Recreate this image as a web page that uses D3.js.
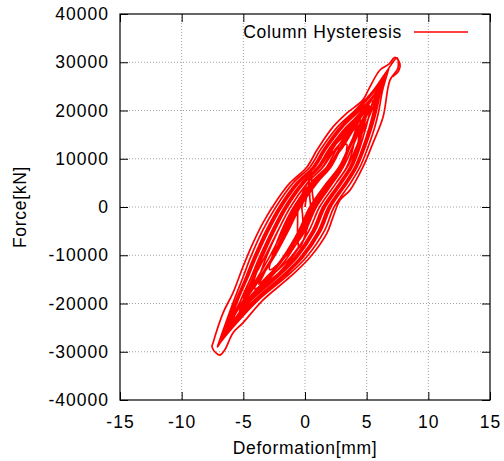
<!DOCTYPE html>
<html>
<head>
<meta charset="utf-8">
<script src="https://cdn.jsdelivr.net/npm/d3@7"></script>
<style>
  body { margin: 0; background: #fff; }
  svg text { font-family: "Liberation Sans", Arial, sans-serif; fill: #000; }
</style>
</head>
<body>
<div id="chart"></div>
<script>
// Tick values
const xTicks = [-15, -10, -5, 0, 5, 10, 15];
const yTicks = [-40000, -30000, -20000, -10000, 0, 10000, 20000, 30000, 40000];

// Hysteresis cycles, [deformation mm, force kN].
// Each cycle: positive peak -> unloading to negative peak -> reloading.
const start = [[0, 0], [0.15, 2500]];
const cycA = [[0.35, 4500], [0.36, 3825], [0.37, 2925], [0.40, 1575], [0.45, 0], [0.27, -1575], [0.08, -2925], [-0.05, -3825], [-0.15, -4500],
  [-0.16, -3825], [-0.17, -2925], [-0.20, -1575], [-0.25, 0], [-0.07, 1575], [0.12, 2925], [0.25, 3825]];
const cycB = [[0.5, 7500], [0.55, 5400], [0.6, 2900], [0.7, 0], [0.33, -3150], [0.0, -5850], [-0.25, -7650], [-0.5, -8500],
  [-0.55, -7650], [-0.6, -5850], [-0.6, -3150], [-0.55, 0], [-0.2, 2905], [0.3, 5395], [0.9, 7800], [1.8, 10500]];
const cycC = [[3.38, 13000], [3.38, 12000], [3.09, 8300], [2.26, 5000], [0.92, 0], [0.01, -5000], [-1.62, -10400], [-2.87, -13000],
  [-2.68, -10400], [-1.91, -5000], [-0.92, 0], [0.48, 5000], [1.77, 8300], [2.96, 12000]];
const cycD = [[4.13, 16500], [3.87, 12000], [3.39, 8300], [2.53, 5000], [1.18, 0], [0.30, -5000], [-1.16, -10400], [-2.84, -14500], [-4.06, -17000],
  [-3.72, -14500], [-3.14, -10400], [-2.20, -5000], [-1.18, 0], [0.21, 5000], [1.47, 8300], [2.47, 12000]];
const cycS = [[4.25, 17000], [4.19, 16600], [3.57, 12000], [2.97, 8300], [2.01, 5000], [0.66, 0], [-0.26, -5000], [-1.63, -10400], [-3.11, -14500], [-3.75, -16000],
  [-3.45, -14500], [-2.67, -10400], [-1.64, -5000], [-0.66, 0], [0.73, 5000], [1.90, 8300], [2.77, 12000], [4.11, 16600]];
const cycQ = [[4.5, 18000], [4.46, 16600], [4.21, 12000], [3.73, 8300], [2.92, 5000], [1.57, 0], [0.72, -5000], [-0.77, -10400], [-2.51, -14500], [-4.52, -18500],
  [-4.05, -14500], [-3.53, -10400], [-2.62, -5000], [-1.57, 0], [-0.18, 5000], [1.13, 8300], [2.14, 12000], [3.84, 16600]];
const cycK = [[5.23, 21000], [5.05, 20000], [4.32, 16600], [3.46, 12000], [2.76, 8300], [1.76, 5000], [0.39, 0], [-0.53, -5000], [-1.79, -10400], [-3.04, -14500], [-4.70, -19300], [-5.33, -21500],
  [-4.84, -19300], [-3.53, -14500], [-2.51, -10400], [-1.37, -5000], [-0.39, 0], [0.98, 5000], [2.10, 8300], [2.88, 12000], [3.98, 16600], [4.97, 20000]];
const cycE = [[4.88, 19500], [4.64, 16600], [4.18, 12000], [3.64, 8300], [2.79, 5000], [1.44, 0], [0.58, -5000], [-0.85, -10400], [-2.46, -14500], [-4.67, -19300], [-4.95, -20000],
  [-4.87, -19300], [-4.10, -14500], [-3.45, -10400], [-2.48, -5000], [-1.44, 0], [-0.05, 5000], [1.22, 8300], [2.16, 12000], [3.66, 16600]];
const cycE2 = [[5.0, 20000], [4.74, 16600], [4.3, 12000], [3.76, 8300], [2.91, 5000], [1.56, 0], [0.7, -5000], [-0.73, -10400], [-2.34, -14500], [-4.55, -19300], [-5.05, -20500],
  [-4.99, -19300], [-4.22, -14500], [-3.57, -10400], [-2.6, -5000], [-1.56, 0], [-0.17, 5000], [1.1, 8300], [2.04, 12000], [3.54, 16600]];
const cycF = [[5.45, 22000], [5.29, 20000], [4.95, 16600], [4.41, 12000], [3.83, 8300], [3.0, 5000], [1.65, 0], [0.80, -5000], [-0.61, -10400], [-2.19, -14500], [-4.34, -19300], [-5.71, -23000],
  [-5.20, -19300], [-4.37, -14500], [-3.69, -10400], [-2.70, -5000], [-1.65, 0], [-0.26, 5000], [1.03, 8300], [1.94, 12000], [3.35, 16600], [4.73, 20000]];
const cycM = [[5.77, 23500], [5.21, 20000], [4.57, 16600], [3.77, 12000], [3.10, 8300], [2.15, 5000], [0.79, 0], [-0.11, -5000], [-1.41, -10400], [-2.74, -14500], [-4.53, -19300], [-5.97, -24000],
  [-5.01, -19300], [-3.82, -14500], [-2.89, -10400], [-1.79, -5000], [-0.79, 0], [0.60, 5000], [1.76, 8300], [2.57, 12000], [3.73, 16600], [4.81, 20000]];
const cycG = [[5.98, 24500], [5.93, 24000], [5.57, 20000], [5.22, 16600], [4.63, 12000], [4.04, 8300], [3.23, 5000], [1.89, 0], [1.06, -5000], [-0.37, -10400], [-1.95, -14500], [-4.11, -19300], [-5.82, -24000], [-6.32, -25500],
  [-6.12, -24000], [-5.43, -19300], [-4.61, -14500], [-3.94, -10400], [-2.96, -5000], [-1.89, 0], [-0.49, 5000], [0.82, 8300], [1.71, 12000], [3.08, 16600], [4.45, 20000], [5.83, 24000]];
const cycN = [[6.17, 25500], [5.96, 24000], [5.41, 20000], [4.84, 16600], [4.09, 12000], [3.44, 8300], [2.54, 5000], [1.18, 0], [0.31, -5000], [-1.03, -10400], [-2.44, -14500], [-4.34, -19300], [-5.85, -24000], [-6.44, -26000],
  [-6.09, -24000], [-5.20, -19300], [-4.12, -14500], [-3.27, -10400], [-2.21, -5000], [-1.18, 0], [0.20, 5000], [1.42, 8300], [2.25, 12000], [3.46, 16600], [4.62, 20000], [5.80, 24000]];
const cycH = [[6.46, 27000], [6.13, 24000], [5.80, 20000], [5.44, 16600], [4.82, 12000], [4.23, 8300], [3.44, 5000], [2.10, 0], [1.28, -5000], [-0.15, -10400], [-1.76, -14500], [-3.95, -19300], [-5.65, -24000], [-6.78, -27500],
  [-6.29, -24000], [-5.59, -19300], [-4.80, -14500], [-4.15, -10400], [-3.18, -5000], [-2.10, 0], [-0.70, 5000], [0.63, 8300], [1.52, 12000], [2.86, 16600], [4.22, 20000], [5.63, 24000]];
const cycH2 = [[6.3, 26500], [6.0, 24000], [5.7, 20000], [5.34, 16600], [4.72, 12000], [4.13, 8300], [3.34, 5000], [2.0, 0], [1.18, -5000], [-0.25, -10400], [-1.86, -14500], [-4.05, -19300], [-5.75, -24000], [-6.6, -27000],
  [-6.19, -24000], [-5.49, -19300], [-4.7, -14500], [-4.05, -10400], [-3.08, -5000], [-2.0, 0], [-0.6, 5000], [0.73, 8300], [1.62, 12000], [2.96, 16600], [4.32, 20000], [5.53, 24000]];
const cycR = [[6.36, 26500], [5.93, 24000], [5.20, 20000], [4.47, 16600], [3.58, 12000], [2.88, 8300], [1.89, 5000], [0.52, 0], [-0.39, -5000], [-1.65, -10400], [-2.90, -14500], [-4.57, -19300], [-5.90, -24000], [-6.67, -27000],
  [-6.04, -24000], [-4.97, -19300], [-3.66, -14500], [-2.65, -10400], [-1.51, -5000], [-0.52, 0], [0.85, 5000], [1.98, 8300], [2.76, 12000], [3.83, 16600], [4.82, 20000], [5.83, 24000]];
const cycI = [[6.8, 28800], [6.71, 28000], [6.27, 24000], [5.99, 20000], [5.66, 16600], [5.05, 12000], [4.46, 8300], [3.70, 5000], [2.36, 0], [1.56, -5000], [0.11, -10400], [-1.54, -14500], [-3.79, -19300], [-5.52, -24000], [-6.83, -28000], [-7.1, -29000],
  [-6.97, -28000], [-6.42, -24000], [-5.75, -19300], [-5.02, -14500], [-4.41, -10400], [-3.46, -5000], [-2.36, 0], [-0.96, 5000], [0.40, 8300], [1.29, 12000], [2.64, 16600], [4.04, 20000], [5.49, 24000], [6.59, 28000]];
const cycJ = [[7.46, 30900], [7.54, 28800], [6.89, 26300], [6.33, 18650], [5.52, 13300], [4.7, 8300], [3.65, 3500], [2.84, 1450], [2.27, -2100],
  [1.78, -5400], [0.41, -10400], [-1.22, -14500], [-3.41, -19300], [-5.03, -24000], [-5.84, -26100], [-6.5, -29600], [-6.89, -30700],
  [-7.2, -30300], [-7.54, -29000], [-7.46, -28200], [-6.65, -22000], [-5.84, -17800], [-5.03, -12400], [-4.22, -7500], [-3.41, -3300],
  [-2.27, 1450], [-1.22, 5000], [0.16, 8300], [0.97, 11800], [2.27, 16600], [3.41, 19500], [4.7, 22200], [5.2, 24600], [6.08, 28400],
  [6.8, 29600], [7.3, 31000], [7.7, 29700], [7.6, 28200], [7.1, 27000]];

const cycles = [start, cycA, cycB, cycC, cycD, cycS, cycQ, cycK, cycE, cycE2, cycF, cycM, cycG, cycN, cycH, cycH2, cycR, cycI, cycJ];

// Layout
const W = 504, H = 461;
const margin = { top: 14, right: 14, bottom: 61, left: 120 };
const width = W - margin.left - margin.right;
const height = H - margin.top - margin.bottom;
const fontSize = "17.5px";

const svg = d3.select("#chart")
  .append("svg")
  .attr("width", W)
  .attr("height", H);

const g = svg.append("g")
  .attr("transform", `translate(${margin.left},${margin.top})`);

// Scales
const x = d3.scaleLinear().domain([-15, 15]).range([0, width]);
const y = d3.scaleLinear().domain([-40000, 40000]).range([height, 0]);

// Grid (dotted)
g.append("g").selectAll("line")
  .data(xTicks.slice(1, -1))
  .enter().append("line")
  .attr("x1", d => x(d)).attr("x2", d => x(d))
  .attr("y1", 0).attr("y2", height)
  .attr("stroke", "#a0a0a0")
  .attr("stroke-width", 1)
  .attr("stroke-dasharray", "1,2");

g.append("g").selectAll("line")
  .data(yTicks.slice(1, -1))
  .enter().append("line")
  .attr("x1", 0).attr("x2", width)
  .attr("y1", d => y(d)).attr("y2", d => y(d))
  .attr("stroke", "#a0a0a0")
  .attr("stroke-width", 1)
  .attr("stroke-dasharray", "1,2");

// Axes: inward ticks on all four sides
const tickLen = 8;
const bottomAxis = g.append("g")
  .attr("transform", `translate(0,${height})`)
  .call(d3.axisBottom(x).tickValues(xTicks).tickSize(-tickLen).tickPadding(16));
const topAxis = g.append("g")
  .call(d3.axisTop(x).tickValues(xTicks).tickSize(-tickLen).tickFormat(""));
const leftAxis = g.append("g")
  .call(d3.axisLeft(y).tickValues(yTicks).tickSize(-tickLen).tickPadding(11));
const rightAxis = g.append("g")
  .attr("transform", `translate(${width},0)`)
  .call(d3.axisRight(y).tickValues(yTicks).tickSize(-tickLen).tickFormat(""));

[bottomAxis, topAxis, leftAxis, rightAxis].forEach(a => {
  a.select(".domain").remove();
  a.selectAll(".tick line").attr("stroke", "#000").attr("stroke-width", 1);
  a.selectAll("text").style("font-size", fontSize).attr("fill", "#000")
    .style("letter-spacing", "1px")
    .style("font-family", '"Liberation Sans", Arial, sans-serif');
});
leftAxis.selectAll("text").text(d => String(d));
bottomAxis.selectAll("text").text(d => String(d));

// Border
g.append("rect")
  .attr("x", 0).attr("y", 0)
  .attr("width", width).attr("height", height)
  .attr("fill", "none")
  .attr("stroke", "#000")
  .attr("stroke-width", 1.2);

// Hysteresis curve
const line = d3.line()
  .x(d => x(d[0]))
  .y(d => y(d[1]))
  .curve(d3.curveCatmullRom.alpha(0.5));

g.append("path")
  .datum(cycles.flat())
  .attr("d", line)
  .attr("fill", "none")
  .attr("stroke", "#ff0000")
  .attr("stroke-width", 1.7)
  .attr("stroke-linejoin", "round");

// Legend
g.append("text")
  .attr("x", 282)
  .attr("y", 18)
  .attr("dy", "0.35em")
  .attr("text-anchor", "end")
  .style("font-size", fontSize)
  .style("letter-spacing", "0.7px")
  .text("Column Hysteresis");

g.append("line")
  .attr("x1", 294).attr("x2", 348)
  .attr("y1", 18).attr("y2", 18)
  .attr("stroke", "#ff0000")
  .attr("stroke-width", 1.5);

// Axis labels
svg.append("text")
  .attr("x", margin.left + width / 2)
  .attr("y", 454)
  .attr("text-anchor", "middle")
  .style("font-size", fontSize)
  .style("letter-spacing", "0.7px")
  .text("Deformation[mm]");

svg.append("text")
  .attr("transform", `translate(26,${margin.top + height / 2}) rotate(-90)`)
  .attr("text-anchor", "middle")
  .style("font-size", fontSize)
  .style("letter-spacing", "0.7px")
  .text("Force[kN]");
</script>
</body>
</html>
